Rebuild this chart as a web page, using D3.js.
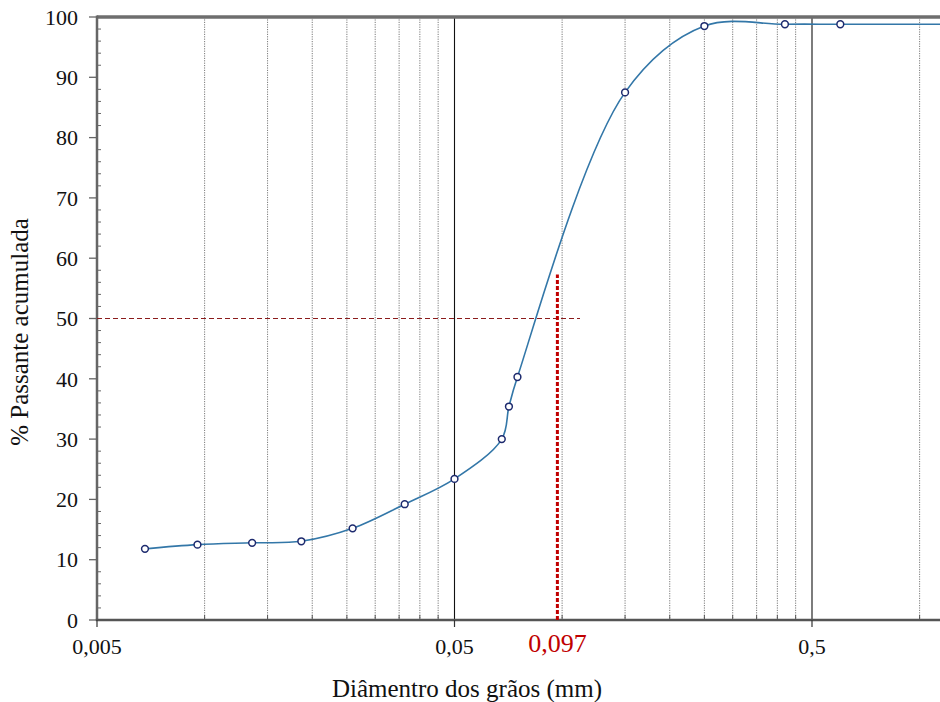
<!DOCTYPE html>
<html>
<head>
<meta charset="utf-8">
<script src="https://cdn.jsdelivr.net/npm/d3@7"></script>
<style>
  html, body { margin: 0; padding: 0; background: #fff; }
  svg { display: block; }
  text { font-family: "Liberation Serif", "Times New Roman", serif; fill: #111; }
</style>
</head>
<body>
<svg id="chart" width="940" height="702"></svg>
<script>
// Grain size (mm) and cumulative percent passing
const diameters = [0.00681, 0.00955, 0.01358, 0.01864, 0.02594, 0.03628, 0.0500, 0.0678, 0.0710, 0.0750, 0.150, 0.250, 0.420, 0.600, 1.18];
const passing   = [11.8, 12.5, 12.8, 13.05, 15.2, 19.2, 23.4, 30.0, 35.4, 40.3, 87.5, 98.5, 98.8, 98.8, 98.8];

// Reference lines: D50
const d50Value = 0.097;
const d50Label = "0,097";
const halfPassing = 50;

// Axis ticks
const xTickValues = [0.005, 0.05, 0.5];
const xTickLabels = ["0,005", "0,05", "0,5"];
const xMinorGrid = [0.01, 0.015, 0.02, 0.025, 0.03, 0.035, 0.04, 0.045,
                    0.1, 0.15, 0.2, 0.25, 0.3, 0.35, 0.4, 0.45, 1.0, 1.5];
const yTickValues = [0, 10, 20, 30, 40, 50, 60, 70, 80, 90, 100];
const yMinorTicks = d3.range(0, 101, 2);

const xTitle = "Diâmentro dos grãos (mm)";
const yTitle = "% Passante acumulada";

const plotLeft = 97, plotTop = 17, plotBottom = 620, plotRight = 940;

const svg = d3.select("#chart");

const x = d3.scaleLog().domain([0.005, 0.5]).range([plotLeft, 812]);
const y = d3.scaleLinear().domain([0, 100]).range([plotBottom, plotTop]);

svg.append("defs").append("clipPath").attr("id", "plot-clip")
  .append("rect").attr("x", plotLeft).attr("y", plotTop - 2)
  .attr("width", plotRight - plotLeft).attr("height", plotBottom - plotTop + 2);

const gridVals = xMinorGrid.filter(v => x(v) <= plotRight);

// Vertical grid: dotted minor lines, solid decade lines
svg.append("g").selectAll("line").data(gridVals).join("line")
  .attr("x1", d => x(d)).attr("x2", d => x(d))
  .attr("y1", plotTop).attr("y2", plotBottom)
  .attr("stroke", "#7a7a7a").attr("stroke-width", 1)
  .attr("stroke-dasharray", "1.2,1.2");

svg.append("g").selectAll("line").data(xTickValues.slice(1)).join("line")
  .attr("x1", d => x(d)).attr("x2", d => x(d))
  .attr("y1", plotTop).attr("y2", plotBottom)
  .attr("stroke", "#111").attr("stroke-width", 1.1);

// Small ticks along the bottom axis at grid positions
svg.append("g").selectAll("line").data(gridVals).join("line")
  .attr("x1", d => x(d)).attr("x2", d => x(d))
  .attr("y1", plotBottom - 5).attr("y2", plotBottom)
  .attr("stroke", "#555").attr("stroke-width", 1);

// Top frame
svg.append("line")
  .attr("x1", plotLeft).attr("x2", plotRight).attr("y1", plotTop).attr("y2", plotTop)
  .attr("stroke", "#6e6e6e").attr("stroke-width", 3.5);

// Left axis
svg.append("line")
  .attr("x1", plotLeft).attr("x2", plotLeft).attr("y1", plotTop - 1.5).attr("y2", plotBottom)
  .attr("stroke", "#666").attr("stroke-width", 2.5);
svg.append("g").selectAll("line").data(yMinorTicks.filter(v => v % 10 !== 0)).join("line")
  .attr("x1", plotLeft).attr("x2", plotLeft + 4)
  .attr("y1", d => y(d)).attr("y2", d => y(d))
  .attr("stroke", "#666").attr("stroke-width", 1);
svg.append("g").selectAll("line").data(yTickValues).join("line")
  .attr("x1", plotLeft - 8).attr("x2", plotLeft)
  .attr("y1", d => y(d)).attr("y2", d => y(d))
  .attr("stroke", "#666").attr("stroke-width", 1.3);
svg.append("g").selectAll("text").data(yTickValues).join("text")
  .attr("x", plotLeft - 19).attr("y", d => y(d))
  .attr("dy", "0.35em").attr("text-anchor", "end")
  .attr("font-size", 22)
  .text(d => d);

// Bottom axis
svg.append("line")
  .attr("x1", plotLeft - 1.2).attr("x2", plotRight).attr("y1", plotBottom).attr("y2", plotBottom)
  .attr("stroke", "#555").attr("stroke-width", 2.5);
svg.append("g").selectAll("line").data(xTickValues).join("line")
  .attr("x1", d => x(d)).attr("x2", d => x(d))
  .attr("y1", plotBottom).attr("y2", plotBottom + 7)
  .attr("stroke", "#333").attr("stroke-width", 1.2);
svg.append("g").selectAll("text").data(xTickValues).join("text")
  .attr("x", d => x(d)).attr("y", 654)
  .attr("text-anchor", "middle").attr("font-size", 22)
  .text((d, i) => xTickLabels[i]);

// D50 guides
svg.append("line")
  .attr("x1", plotLeft).attr("x2", 580)
  .attr("y1", y(halfPassing)).attr("y2", y(halfPassing))
  .attr("stroke", "#8b1c1c").attr("stroke-width", 1)
  .attr("stroke-dasharray", "5,3");
svg.append("line")
  .attr("x1", x(d50Value)).attr("x2", x(d50Value))
  .attr("y1", plotBottom).attr("y2", y(57.3))
  .attr("stroke", "#c00000").attr("stroke-width", 3)
  .attr("stroke-dasharray", "4,2");
svg.append("text")
  .attr("x", x(d50Value)).attr("y", 652)
  .attr("text-anchor", "middle").attr("font-size", 26)
  .style("fill", "#c00000")
  .text(d50Label);

// Grading curve (smoothed through the measured points)
const pts = diameters.map((d, i) => [d, passing[i]]);
const line = d3.line().x(d => x(d[0])).y(d => y(d[1])).curve(d3.curveCatmullRom.alpha(0.5));
svg.append("path")
  .datum(pts)
  .attr("clip-path", "url(#plot-clip)")
  .attr("d", line)
  .attr("fill", "none")
  .attr("stroke", "#3377a8").attr("stroke-width", 1.6);

svg.append("g").attr("clip-path", "url(#plot-clip)")
  .selectAll("circle").data(pts).join("circle")
  .attr("cx", d => x(d[0])).attr("cy", d => y(d[1]))
  .attr("r", 3.4)
  .attr("fill", "#fff").attr("stroke", "#1d2a6e").attr("stroke-width", 1.5);

// Axis titles
svg.append("text")
  .attr("x", 467).attr("y", 697)
  .attr("text-anchor", "middle").attr("font-size", 25)
  .text(xTitle);
svg.append("text")
  .attr("transform", "translate(28,332) rotate(-90)")
  .attr("text-anchor", "middle").attr("font-size", 25)
  .text(yTitle);
</script>
</body>
</html>
